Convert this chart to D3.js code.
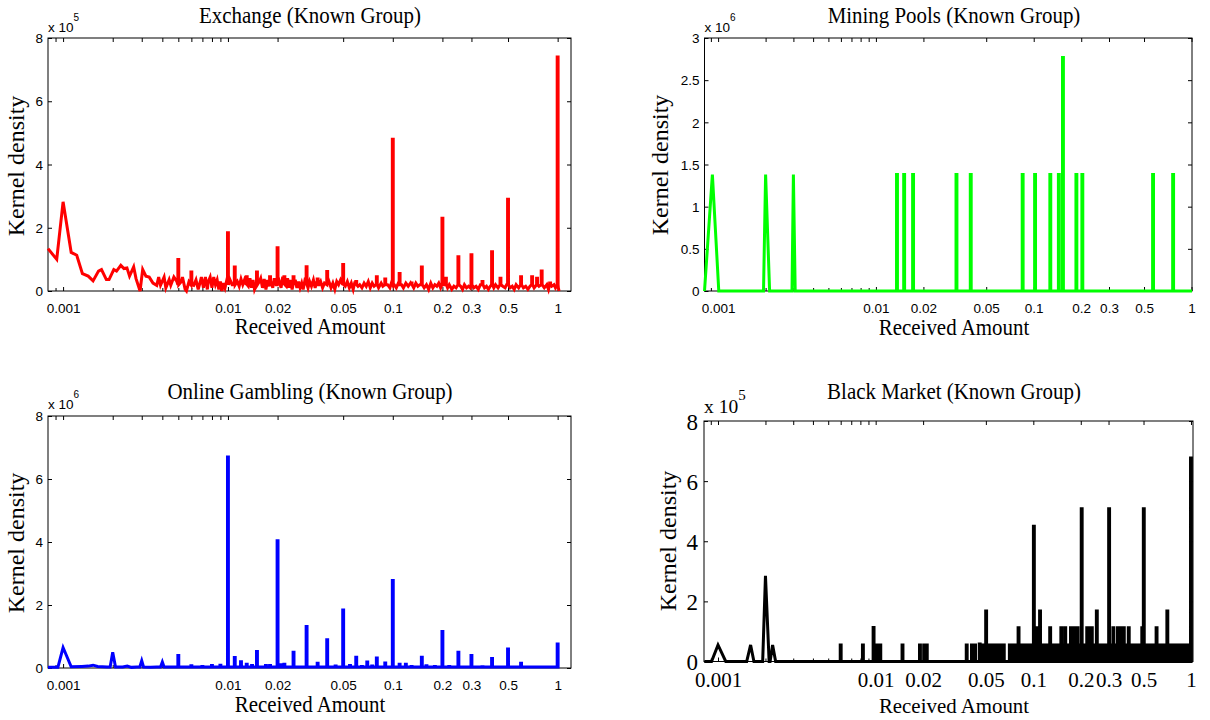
<!DOCTYPE html>
<html>
<head>
<meta charset="utf-8">
<script src="https://cdnjs.cloudflare.com/ajax/libs/d3/7.8.5/d3.min.js"></script>
<style>
  body { margin: 0; background: #fff; }
</style>
</head>
<body>
<svg></svg>
<script>
// ---------- data (amount in BTC, density in units of the axis exponent) ----------
const xTickValues = [0.001, 0.01, 0.02, 0.05, 0.1, 0.2, 0.3, 0.5, 1];
const xMinorTicks = [0.0009, 0.002, 0.003, 0.004, 0.005, 0.006, 0.007, 0.008, 0.009];
const yTicksEight = [0, 2, 4, 6, 8];
const yTicksThree = [0, 0.5, 1, 1.5, 2, 2.5, 3];

// Exchange (x 10^5): wiggly curve + narrow spikes
const exchangeCurve = [
  [0.00081, 1.34], [0.000915, 1.0], [0.001, 2.82], [0.00112, 1.22], [0.00121, 1.13],
  [0.00131, 0.55], [0.00142, 0.47], [0.00152, 0.32], [0.00164, 0.63], [0.00171, 0.68],
  [0.00183, 0.36], [0.0019, 0.36], [0.00203, 0.68], [0.00211, 0.63], [0.00224, 0.81],
  [0.00234, 0.71], [0.00244, 0.73], [0.00253, 0.47], [0.00268, 0.76], [0.00277, 0.39],
  [0.00293, 0], [0.00304, 0.68], [0.00318, 0.47], [0.00333, 0.44], [0.00351, 0.25],
  [0.0037, 0.18], [0.0038, 0.44], [0.0039, 0.18], [0.0041, 0.44], [0.0042, 0.1],
  [0.0044, 0.36], [0.0045, 0.18], [0.0047, 0.44], [0.0049, 0.3],
  [0.0052, 0.29], [0.0053, 0.44], [0.0055, 0.05], [0.0056, 0], [0.0058, 0.29],
  [0.0062, 0.18], [0.0064, 0.35], [0.0066, 0.05], [0.0068, 0.3], [0.0069, 0.44], [0.0071, 0.1],
  [0.0073, 0.44], [0.0075, 0.05], [0.0076, 0.3], [0.0078, 0.44], [0.008, 0.1],
  [0.0082, 0.44], [0.0084, 0.2], [0.0086, 0.35], [0.0088, 0.05], [0.009, 0.3],
  [0.0092, 0], [0.0094, 0.25], [0.0096, 0.1], [0.0098, 0.3],
  [0.0103, 0.35], [0.0106, 0.2], [0.0114, 0.3], [0.0117, 0.15], [0.012, 0.38], [0.0123, 0.2],
  [0.0126, 0.35], [0.0133, 0.15], [0.0136, 0.4], [0.0139, 0.1], [0.0142, 0.35], [0.0145, 0.05],
  [0.0155, 0.3], [0.0158, 0.4], [0.0162, 0.1], [0.0166, 0.38], [0.017, 0.05], [0.0174, 0.35],
  [0.0178, 0.15], [0.0183, 0.3], [0.0187, 0.1], [0.0191, 0.4], [0.0196, 0.2], [0.0205, 0.3],
  [0.021, 0.1], [0.0215, 0.45], [0.0226, 0.15], [0.023, 0.4], [0.0235, 0.1], [0.024, 0.35],
  [0.0245, 0.05], [0.0256, 0.35], [0.0262, 0.1], [0.0268, 0.3], [0.0274, 0.1], [0.028, 0.25],
  [0.0286, 0.05], [0.0292, 0.3], [0.0306, 0.1], [0.0313, 0.3], [0.0321, 0.15], [0.033, 0.35],
  [0.0338, 0.1], [0.0345, 0.3], [0.0357, 0.2], [0.0365, 0.3], [0.0375, 0.1], [0.0385, 0.25],
  [0.041, 0.3], [0.0422, 0.1], [0.0433, 0.25], [0.0445, 0.05], [0.0457, 0.3], [0.0469, 0.2],
  [0.0482, 0.35], [0.0515, 0.15], [0.053, 0.3], [0.0545, 0.1], [0.056, 0.25], [0.0575, 0.05],
  [0.059, 0.3], [0.0615, 0.15], [0.063, 0.2], [0.065, 0.1], [0.067, 0.25], [0.069, 0.15],
  [0.071, 0.3], [0.073, 0.1], [0.075, 0.25], [0.077, 0.15], [0.079, 0.2], [0.082, 0.1],
  [0.085, 0.25], [0.087, 0.15], [0.093, 0.2], [0.096, 0.1], [0.098, 0.25], [0.102, 0.2],
  [0.105, 0.1], [0.108, 0.25], [0.113, 0.2], [0.116, 0.1], [0.12, 0.25], [0.124, 0.15],
  [0.128, 0.25], [0.134, 0.1], [0.138, 0.25], [0.142, 0.15], [0.146, 0.2], [0.155, 0.1],
  [0.16, 0.2], [0.165, 0.05], [0.17, 0.25], [0.175, 0.1], [0.18, 0.2], [0.185, 0.15],
  [0.19, 0.25], [0.195, 0.1], [0.205, 0.2], [0.215, 0.1], [0.22, 0.2], [0.228, 0.05],
  [0.235, 0.15], [0.242, 0.1], [0.258, 0.15], [0.265, 0.05], [0.272, 0.2], [0.28, 0.1],
  [0.288, 0.15], [0.295, 0.1], [0.31, 0.1], [0.32, 0.15], [0.33, 0.05], [0.34, 0.2],
  [0.36, 0.1], [0.37, 0.15], [0.38, 0.05], [0.39, 0.15], [0.41, 0.1], [0.42, 0.2],
  [0.435, 0.1], [0.465, 0.15], [0.48, 0.1], [0.49, 0.2], [0.515, 0.1], [0.53, 0.15],
  [0.545, 0.05], [0.56, 0.2], [0.58, 0.1], [0.62, 0.1], [0.64, 0.15], [0.66, 0.05],
  [0.68, 0.15], [0.72, 0.1], [0.77, 0.15], [0.83, 0.1], [0.86, 0.2], [0.88, 0.05],
  [0.92, 0.15], [0.95, 0.2], [0.97, 0.1], [1.01, 0.1], [1.02, 0]
];
const exchangeSpikes = [
  [0.005, 1.0], [0.006, 0.6], [0.01, 1.84], [0.011, 0.76], [0.013, 0.45], [0.015, 0.6],
  [0.018, 0.45], [0.02, 1.37], [0.022, 0.45], [0.025, 0.45], [0.03, 0.77], [0.035, 0.38],
  [0.04, 0.62], [0.05, 0.84], [0.06, 0.3], [0.08, 0.45], [0.09, 0.38], [0.1, 4.8],
  [0.11, 0.55], [0.13, 0.25], [0.15, 0.76], [0.2, 2.3], [0.21, 0.4], [0.25, 1.08],
  [0.3, 1.15], [0.35, 0.3], [0.4, 1.24], [0.45, 0.4], [0.5, 2.9], [0.6, 0.45],
  [0.7, 0.45], [0.75, 0.4], [0.8, 0.63], [0.9, 0.25], [1, 7.4]
];

// Mining Pools (x 10^6)
const miningCurve = [
  [0.00082, 0], [0.00092, 1.38], [0.00101, 0], [0.00194, 0], [0.002, 1.38], [0.00212, 0],
  [0.00294, 0], [0.003, 1.38], [0.00308, 0], [1.007, 0]
];
const miningSpikes = [
  [0.0136, 1.38], [0.0151, 1.38], [0.0172, 1.38], [0.0324, 1.38], [0.0399, 1.38],
  [0.0851, 1.38], [0.102, 1.38], [0.1274, 1.38], [0.1443, 1.38], [0.1532, 2.77],
  [0.1864, 1.38], [0.2033, 1.38], [0.5705, 1.38], [0.7645, 1.38]
];

// Online Gambling (x 10^6)
const gamblingCurve = [
  [0.00081, 0.02], [0.00093, 0.02], [0.001, 0.65], [0.00112, 0.04], [0.0013, 0.05],
  [0.00142, 0.06], [0.00152, 0.09], [0.00162, 0.05], [0.00185, 0.03], [0.00193, 0.03],
  [0.002, 0.5], [0.00208, 0.03], [0.0023, 0.03], [0.00245, 0.06], [0.0026, 0.02],
  [0.0028, 0.03], [0.00292, 0.03], [0.003, 0.23], [0.00308, 0.03], [0.0034, 0.02],
  [0.0037, 0.03], [0.0039, 0.03], [0.004, 0.19], [0.0041, 0.03], [0.0045, 0.03], [1.005, 0.03]
];
const gamblingSpikes = [
  [0.005, 0.4], [0.006, 0.07], [0.007, 0.05], [0.008, 0.08], [0.009, 0.09], [0.01, 6.7],
  [0.011, 0.33], [0.012, 0.2], [0.013, 0.12], [0.014, 0.08], [0.015, 0.52], [0.017, 0.08],
  [0.018, 0.08], [0.02, 4.04], [0.021, 0.1], [0.022, 0.12], [0.025, 0.5], [0.03, 1.32],
  [0.035, 0.15], [0.04, 0.9], [0.045, 0.06], [0.05, 1.84], [0.055, 0.08], [0.06, 0.34],
  [0.065, 0.05], [0.07, 0.19], [0.075, 0.06], [0.08, 0.32], [0.09, 0.16], [0.1, 2.78],
  [0.11, 0.12], [0.12, 0.12], [0.13, 0.05], [0.15, 0.34], [0.16, 0.07], [0.18, 0.05],
  [0.2, 1.16], [0.22, 0.05], [0.25, 0.5], [0.3, 0.4], [0.35, 0.04], [0.4, 0.3],
  [0.5, 0.6], [0.6, 0.15], [0.7, 0.03], [0.8, 0.03], [1, 0.76]
];

// Black Market (x 10^5)
const blackCurve = [
  [0.00082, 0], [0.00091, 0], [0.001, 0.55], [0.00112, 0], [0.00152, 0], [0.00161, 0.55],
  [0.00169, 0], [0.00192, 0], [0.002, 2.85], [0.00211, 0], [0.00214, 0], [0.00222, 0.55],
  [0.00232, 0], [1.01, 0]
];
const blackSpikes = [
  [0.006, 0.55], [0.0083, 0.55], [0.0097, 1.13], [0.0102, 0.55], [0.0107, 0.55],
  [0.0148, 0.55], [0.0191, 0.55], [0.0203, 0.55], [0.0211, 0.55], [0.0378, 0.55],
  [0.0408, 0.55], [0.0427, 0.55], [0.0457, 0.58], [0.0502, 1.68], [0.0806, 1.12],
  [0.1008, 4.5], [0.1058, 1.12], [0.1103, 1.68], [0.1279, 1.12], [0.1505, 1.12],
  [0.1594, 1.12], [0.1732, 1.12], [0.178, 1.12], [0.184, 1.12], [0.1907, 1.12],
  [0.2027, 5.08], [0.2197, 1.12], [0.227, 1.12], [0.235, 1.12], [0.2528, 1.68],
  [0.3025, 5.08], [0.322, 1.12], [0.344, 1.12], [0.36, 1.12], [0.375, 1.12],
  [0.403, 1.12], [0.491, 1.12], [0.502, 5.08], [0.605, 1.12], [0.708, 1.68], [1.0, 6.77]
];
// amount ranges where the single-observation bumps overlap into a solid band
const blackBands = [[0.0467, 0.0654], [0.0705, 0.995]];
const blackBandLevel = 0.55;

// ---------- layout ----------
const svg = d3.select('svg').attr('width', 1210).attr('height', 720);
const serif = "'Liberation Serif', 'Times New Roman', serif";
const sans = "'Liberation Sans', Arial, sans-serif";

const panels = [
  {title: 'Exchange (Known Group)', curve: exchangeCurve, spikes: exchangeSpikes, foot: 0.2,
   color: '#ff0000', exp: '5', yMax: 8, yTicks: yTicksEight, xDomain: [0.00081, 1.205],
   left: 48, right: 571, top: 38, bottom: 291, cx: 310, titleY: 22.5, xlabY: 334,
   ylabX: 24, ylabY: 166, expY: 31.5, big: false},
  {title: 'Mining Pools (Known Group)', curve: miningCurve, spikes: miningSpikes, foot: 0,
   color: '#00ff00', exp: '6', yMax: 3, yTicks: yTicksThree, xDomain: [0.00082, 1.007],
   left: 704.5, right: 1192, top: 38, bottom: 291, cx: 954, titleY: 22.5, xlabY: 335,
   ylabX: 668, ylabY: 165, expY: 31.5, big: false},
  {title: 'Online Gambling (Known Group)', curve: gamblingCurve, spikes: gamblingSpikes, foot: 0.03,
   color: '#0000ff', exp: '6', yMax: 8, yTicks: yTicksEight, xDomain: [0.00081, 1.205],
   left: 48, right: 571, top: 416, bottom: 668, cx: 310, titleY: 399, xlabY: 712,
   ylabX: 24, ylabY: 543, expY: 408.5, big: false},
  {title: 'Black Market (Known Group)', curve: blackCurve, spikes: blackSpikes, foot: 0,
   bands: blackBands, bandLevel: blackBandLevel,
   color: '#000000', exp: '5', yMax: 8, yTicks: yTicksEight, xDomain: [0.000815, 1.03],
   left: 704, right: 1193, top: 421, bottom: 661.5, cx: 954, titleY: 399, xlabY: 713,
   ylabX: 676, ylabY: 541, expY: 413, big: true}
];

function addText(g, x, y, s, size, sx, anchor) {
  return g.append('text')
    .attr('transform', `translate(${x},${y}) scale(${sx},1)`)
    .attr('text-anchor', anchor)
    .attr('font-family', serif)
    .attr('font-size', size)
    .text(s);
}

function styleTicks(sel) {
  sel.select('.domain').remove();
  sel.selectAll('line').attr('stroke', '#000').attr('stroke-width', 1);
}

function drawPanel(p) {
  const x = d3.scaleLog().domain(p.xDomain).range([p.left, p.right]);
  const y = d3.scaleLinear().domain([0, p.yMax]).range([p.bottom, p.top]);
  const g = svg.append('g');

  // box
  g.append('rect')
    .attr('x', p.left).attr('y', p.top)
    .attr('width', p.right - p.left).attr('height', p.bottom - p.top)
    .attr('fill', 'none').attr('stroke', '#000').attr('stroke-width', 1);

  // ticks pointing inwards on all four sides
  const tickFont = p.big ? serif : sans;
  const tickSize = p.big ? 21 : 13.5;

  const gx = g.append('g').attr('transform', `translate(0,${p.bottom})`)
    .call(d3.axisBottom(x).tickValues(xTickValues).tickFormat(d => String(d))
      .tickSizeInner(-4).tickSizeOuter(0));
  styleTicks(gx);
  gx.attr('font-family', tickFont).attr('font-size', tickSize);
  gx.selectAll('text').attr('y', p.big ? 25 : 21.5).attr('dy', null).attr('fill', '#000');

  styleTicks(g.append('g').attr('transform', `translate(0,${p.bottom})`)
    .call(d3.axisBottom(x).tickValues(xMinorTicks).tickFormat('').tickSizeInner(-3).tickSizeOuter(0)));
  styleTicks(g.append('g').attr('transform', `translate(0,${p.top})`)
    .call(d3.axisTop(x).tickValues(xTickValues.concat(xMinorTicks)).tickFormat('')
      .tickSizeInner(-4).tickSizeOuter(0)));

  const gy = g.append('g').attr('transform', `translate(${p.left},0)`)
    .call(d3.axisLeft(y).tickValues(p.yTicks).tickFormat(d => String(d))
      .tickSizeInner(-4).tickSizeOuter(0));
  styleTicks(gy);
  gy.attr('font-family', tickFont).attr('font-size', p.big ? 23 : tickSize);
  gy.selectAll('text').attr('x', p.big ? -6 : -5).attr('dy', '0.35em').attr('fill', '#000');

  styleTicks(g.append('g').attr('transform', `translate(${p.right},0)`)
    .call(d3.axisRight(y).tickValues(p.yTicks).tickFormat('').tickSizeInner(-4).tickSizeOuter(0)));

  // exponent label
  const e = g.append('text').attr('x', p.left).attr('y', p.expY)
    .attr('font-family', p.big ? serif : sans).attr('font-size', p.big ? 19.5 : 13.5);
  e.append('tspan').text('x 10');
  e.append('tspan').attr('dy', p.big ? -13 : -10.5).attr('font-size', p.big ? 15 : 10).text(p.exp);

  // titles
  addText(g, p.cx, p.titleY, p.title, 23, 0.91, 'middle');
  addText(g, p.cx, p.xlabY, 'Received Amount', p.big ? 22 : 23, p.big ? 0.95 : 0.91, 'middle');
  g.append('text')
    .attr('transform', `translate(${p.ylabX},${p.ylabY}) rotate(-90)`)
    .attr('text-anchor', 'middle').attr('font-family', serif).attr('font-size', 24)
    .text('Kernel density');

  // solid bands
  if (p.bands) {
    g.selectAll('rect.band').data(p.bands).join('rect').attr('class', 'band')
      .attr('x', d => x(d[0])).attr('width', d => x(d[1]) - x(d[0]))
      .attr('y', y(p.bandLevel)).attr('height', y(0) - y(p.bandLevel))
      .attr('fill', p.color).attr('stroke', p.color).attr('stroke-width', 3);
  }

  // density line: curve points plus flat-topped spikes, in amount order
  const items = p.curve.map(d => ({a: d[0], v: d[1]}))
    .concat(p.spikes.map(d => ({a: d[0], v: d[1], spike: true})))
    .sort((m, n) => m.a - n.a);
  const pts = [];
  const hw = 0.45;
  items.forEach(m => {
    const cx = x(m.a);
    if (m.spike) {
      pts.push([cx - hw, y(p.foot)], [cx - hw, y(m.v)], [cx + hw, y(m.v)], [cx + hw, y(p.foot)]);
    } else {
      pts.push([cx, y(m.v)]);
    }
  });
  g.append('path')
    .attr('d', d3.line()(pts))
    .attr('fill', 'none')
    .attr('stroke', p.color)
    .attr('stroke-width', 3)
    .attr('stroke-linejoin', 'miter');
}

panels.forEach(drawPanel);
</script>
</body>
</html>
